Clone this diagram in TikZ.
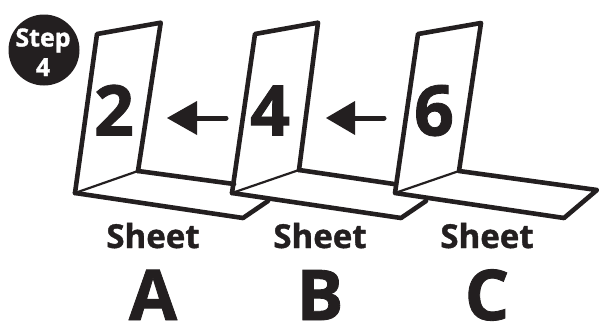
\documentclass[tikz,border=0pt]{standalone}
\usepackage{fontspec}
\setmainfont{Open Sans}[BoldFont={Open Sans Bold},BoldFeatures={FakeBold=1.2}]
\definecolor{ink}{HTML}{231F20}
\tikzset{
  thick line/.style={draw=ink,line width=4.6pt,line join=round,line cap=round},
  crease/.style={draw=ink,line width=2.2pt,line cap=round},
  big/.style={anchor=base,text=ink,font=\bfseries\fontsize{70}{70}\selectfont,inner sep=0pt},
  digit/.style={anchor=base,text=ink,font=\bfseries\fontsize{70}{70}\selectfont,inner sep=0pt},
  sheetlabel/.style={anchor=base,text=ink,font=\bfseries\fontsize{33}{33}\selectfont,inner sep=0pt},
  steplabel/.style={anchor=base,text=white,font=\bfseries\fontsize{25}{25}\selectfont,inner sep=0pt},
  pointer/.style={draw=ink,line width=5pt,line cap=round}
}
\begin{document}
\begin{tikzpicture}[x=1pt,y=-1pt]
\useasboundingbox (0,0) rectangle (599,324);
% Sheet A
\coordinate (a1) at (75,193); \coordinate (a2) at (97,34); \coordinate (a3) at (160.7,22.7); \coordinate (a4) at (138,171);
\coordinate (a5) at (243,218); \coordinate (a6) at (268,201); \coordinate (a7) at (234,184);
\draw[thick line,fill=white] (a1) -- (a2) -- (a3) -- (a4);
\draw[thick line] (a1) -- (a5) -- (a6);
\draw[thick line] (a4) -- (a7);
\draw[crease] (a1) -- (a4);
% Sheet B
\coordinate (b1) at (232,193); \coordinate (b2) at (255,34); \coordinate (b3) at (318,22.7); \coordinate (b4) at (299,170);
\coordinate (b5) at (401,218); \coordinate (b6) at (426,201); \coordinate (b7) at (394,184);
\draw[thick line] (b1) -- (b2) -- (b3) -- (b4);
\draw[thick line] (b1) -- (b5) -- (b6);
\draw[thick line] (b4) -- (b7);
\draw[crease] (b1) -- (b4);
% Sheet C
\coordinate (c1) at (395,193); \coordinate (c2) at (418,34); \coordinate (c3) at (481,23); \coordinate (c4) at (459,171);
\coordinate (c5) at (564,218); \coordinate (c6) at (597,190);
\draw[thick line] (c1) -- (c2) -- (c3) -- (c4) -- (c6) -- (c5) -- cycle;
\draw[crease] (c1) -- (c4);
% digits
\node[digit] (d2) at (114,135.5) {2};
\node[digit] (d4) at (270,135.5) {4};
\node[digit] (d6) at (434,135.5) {6};
% arrows
\coordinate (p1s) at (226,118); \coordinate (p1e) at (190,118);
\coordinate (p2s) at (384,118); \coordinate (p2e) at (350,118);
\draw[pointer] (p1s) -- (p1e);
\draw[pointer] (p2s) -- (p2e);
\fill[ink] (167,118) -- (197,101) -- (197,135) -- cycle;
\fill[ink] (326,118) -- (355,101) -- (355,135) -- cycle;
% badge
\fill[ink] (44,50) circle (35.5);
\node[steplabel] (st) at (43,46.5) {Step};
\node[steplabel] (sn) at (43,76) {4};
% labels
\node[sheetlabel] (sa) at (153,248) {Sheet};
\node[sheetlabel] (sb) at (320,248) {Sheet};
\node[sheetlabel] (sc) at (487,248) {Sheet};
\node[big] (la) at (153,320) {A};
\node[big] (lb) at (320,320) {B};
\node[big] (lc) at (487,320) {C};
\end{tikzpicture}
\end{document}
